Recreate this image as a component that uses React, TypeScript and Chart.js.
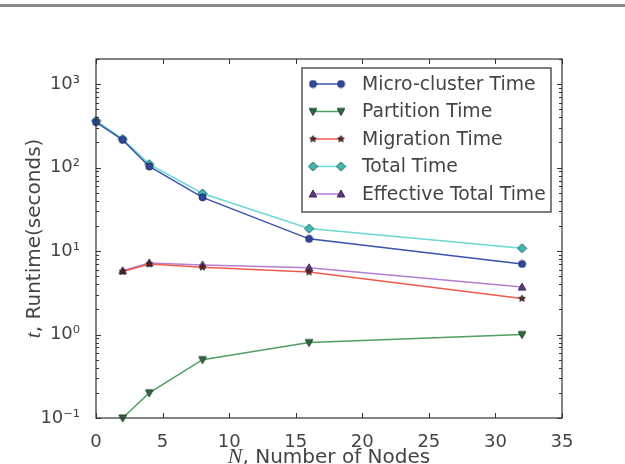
import React, { useEffect, useRef } from 'react';
import { Chart, registerables } from 'chart.js';

Chart.register(...registerables);

const nodes = [0, 2, 4, 8, 16, 32];
const microCluster = [350, 215, 103, 44, 14, 7];
const partition = [null, 0.1, 0.2, 0.5, 0.8, 1.0];
const migration = [null, 5.7, 7.0, 6.4, 5.6, 2.7];
const totalTime = [365, 220, 110, 49, 18.6, 10.8];
const effective = [null, 5.8, 7.2, 6.8, 6.3, 3.7];

const seriesLabels = ['Micro-cluster Time', 'Partition Time', 'Migration Time', 'Total Time', 'Effective Total Time'];
const xTickValues = [0, 5, 10, 15, 20, 25, 30, 35];
const yDecades = [-1, 0, 1, 2, 3];
const supDigits: Record<string, string> = { '-': '⁻', '0': '⁰', '1': '¹', '2': '²', '3': '³', '4': '⁴', '5': '⁵', '6': '⁶', '7': '⁷', '8': '⁸', '9': '⁹' };

const FONT = "'DejaVu Sans'";
const TEXT_COLOR = '#444';

function makeMarker(shape: string, size: number, fill: string, stroke: string): HTMLCanvasElement {
  const c = document.createElement('canvas');
  c.width = size;
  c.height = size;
  const ctx = c.getContext('2d')!;
  const cx = size / 2;
  const cy = size / 2;
  const r = size / 2 - 1;
  ctx.beginPath();
  if (shape === 'circle') {
    ctx.arc(cx, cy, r, 0, Math.PI * 2);
  } else if (shape === 'diamond') {
    ctx.moveTo(cx, cy - r);
    ctx.lineTo(cx + r, cy);
    ctx.lineTo(cx, cy + r);
    ctx.lineTo(cx - r, cy);
    ctx.closePath();
  } else if (shape === 'triUp') {
    ctx.moveTo(cx, cy - r);
    ctx.lineTo(cx + r * 0.95, cy + r * 0.75);
    ctx.lineTo(cx - r * 0.95, cy + r * 0.75);
    ctx.closePath();
  } else if (shape === 'triDown') {
    ctx.moveTo(cx, cy + r);
    ctx.lineTo(cx + r * 0.95, cy - r * 0.75);
    ctx.lineTo(cx - r * 0.95, cy - r * 0.75);
    ctx.closePath();
  } else if (shape === 'star') {
    for (let i = 0; i < 10; i++) {
      const rad = i % 2 === 0 ? r : r * 0.45;
      const a = -Math.PI / 2 + (i * Math.PI) / 5;
      const px = cx + rad * Math.cos(a);
      const py = cy + rad * Math.sin(a);
      if (i === 0) ctx.moveTo(px, py);
      else ctx.lineTo(px, py);
    }
    ctx.closePath();
  }
  ctx.fillStyle = fill;
  ctx.fill();
  ctx.lineWidth = 1;
  ctx.strokeStyle = stroke;
  ctx.stroke();
  return c;
}

const styles = [
  { line: '#3a52ab', shape: 'circle', size: 9, fill: '#2f4a9c', stroke: '#1c2b5c' },
  { line: '#4f9f62', shape: 'triDown', size: 10, fill: '#2f6a40', stroke: '#1d3d25' },
  { line: '#f25a4c', shape: 'star', size: 9, fill: '#4a2a2a', stroke: '#3a1e1e' },
  { line: '#6bd8d2', shape: 'diamond', size: 11, fill: '#3fbab3', stroke: '#1d5552' },
  { line: '#b47fd3', shape: 'triUp', size: 10, fill: '#5e3b7e', stroke: '#3a2350' },
];

function drawMixed(ctx: CanvasRenderingContext2D, parts: { text: string; font: string }[], x: number, y: number) {
  let total = 0;
  for (const p of parts) {
    ctx.font = p.font;
    total += ctx.measureText(p.text).width;
  }
  let cur = x - total / 2;
  for (const p of parts) {
    ctx.font = p.font;
    ctx.fillText(p.text, cur, y);
    cur += ctx.measureText(p.text).width;
  }
}

export default function App() {
  const ref = useRef<HTMLCanvasElement>(null);

  useEffect(() => {
    document.body.style.margin = '0';
    const canvas = ref.current!;
    const markers = styles.map((s) => makeMarker(s.shape, s.size, s.fill, s.stroke));
    const seriesData = [microCluster, partition, migration, totalTime, effective];

    const decorPlugin = {
      id: 'decor',
      beforeDraw(chart: any) {
        const ctx = chart.ctx;
        ctx.save();
        ctx.fillStyle = '#8a8a8a';
        ctx.fillRect(0, 4, chart.width, 3);
        ctx.restore();
      },
      afterDraw(chart: any) {
        const ctx: CanvasRenderingContext2D = chart.ctx;
        const { left, right, top, bottom } = chart.chartArea;
        const xs = chart.scales.x;
        const ys = chart.scales.y;
        ctx.save();
        // frame
        ctx.strokeStyle = '#333';
        ctx.lineWidth = 1.2;
        ctx.strokeRect(left, top, right - left, bottom - top);
        // x ticks
        ctx.lineWidth = 1;
        ctx.beginPath();
        for (const v of xTickValues) {
          const px = Math.round(xs.getPixelForValue(v)) + 0.5;
          ctx.moveTo(px, bottom);
          ctx.lineTo(px, bottom - 5);
          ctx.moveTo(px, top);
          ctx.lineTo(px, top + 5);
        }
        // y ticks
        for (const d of yDecades) {
          const py = Math.round(ys.getPixelForValue(Math.pow(10, d))) + 0.5;
          ctx.moveTo(left, py);
          ctx.lineTo(left + 5, py);
          ctx.moveTo(right, py);
          ctx.lineTo(right - 5, py);
          for (let m = 2; m <= 9; m++) {
            const v = m * Math.pow(10, d);
            if (v > ys.max) break;
            const pm = Math.round(ys.getPixelForValue(v)) + 0.5;
            ctx.moveTo(left, pm);
            ctx.lineTo(left + 3, pm);
            ctx.moveTo(right, pm);
            ctx.lineTo(right - 3, pm);
          }
        }
        ctx.stroke();

        // legend
        const lx = 302, ly = 68, lw = 249, lh = 144;
        ctx.fillStyle = '#fff';
        ctx.fillRect(lx, ly, lw, lh);
        ctx.strokeStyle = '#555';
        ctx.lineWidth = 1.5;
        ctx.strokeRect(lx, ly, lw, lh);
        const rowY = [84, 111.5, 139, 166.5, 194];
        ctx.textBaseline = 'middle';
        ctx.textAlign = 'left';
        seriesLabels.forEach((lab, i) => {
          const y = rowY[i];
          ctx.strokeStyle = styles[i].line;
          ctx.lineWidth = 1.5;
          ctx.beginPath();
          ctx.moveTo(313, y);
          ctx.lineTo(341, y);
          ctx.stroke();
          const mk = markers[i];
          ctx.drawImage(mk, 313 - mk.width / 2, y - mk.height / 2);
          ctx.drawImage(mk, 341 - mk.width / 2, y - mk.height / 2);
          ctx.fillStyle = TEXT_COLOR;
          ctx.font = `18.8px ${FONT}`;
          ctx.fillText(lab, 362, y + 1);
        });

        // axis titles
        ctx.fillStyle = TEXT_COLOR;
        ctx.textBaseline = 'alphabetic';
        ctx.save();
        ctx.translate(40, (top + bottom) / 2);
        ctx.rotate(-Math.PI / 2);
        drawMixed(ctx, [
          { text: 't', font: "italic 22px 'Liberation Serif'" },
          { text: ', Runtime(seconds)', font: `20px ${FONT}` },
        ], 0, 0);
        ctx.restore();
        drawMixed(ctx, [
          { text: 'N', font: "italic 22px 'Liberation Serif'" },
          { text: ', Number of Nodes', font: `20px ${FONT}` },
        ], (left + right) / 2, 463);
        ctx.restore();
      },
    };

    const chart = new Chart(canvas, {
      type: 'line',
      data: {
        datasets: seriesLabels.map((lab, i) => ({
          label: lab,
          data: nodes
            .map((n, j) => ({ x: n, y: seriesData[i][j] }))
            .filter((p) => p.y !== null) as any,
          borderColor: styles[i].line,
          backgroundColor: styles[i].fill,
          borderWidth: 1.5,
          pointStyle: markers[i] as any,
          pointRadius: 5,
          tension: 0,
          clip: false as any,
        })),
      },
      options: {
        responsive: false,
        animation: false,
        layout: { padding: { top: 59, right: 63, left: 0, bottom: 0 } },
        plugins: { legend: { display: false }, tooltip: { enabled: false } },
        scales: {
          x: {
            type: 'linear',
            min: 0,
            max: 35,
            grid: { display: false },
            border: { display: false },
            afterBuildTicks: (s: any) => {
              s.ticks = xTickValues.map((v) => ({ value: v }));
            },
            afterFit: (s: any) => {
              s.height = 46;
            },
            ticks: {
              autoSkip: false,
              maxRotation: 0,
              padding: 6,
              color: TEXT_COLOR,
              font: { family: 'DejaVu Sans', size: 18 },
              callback: (v: any) => String(v),
            },
          },
          y: {
            type: 'logarithmic',
            min: 0.1,
            max: 2000,
            grid: { display: false },
            border: { display: false },
            afterBuildTicks: (s: any) => {
              s.ticks = yDecades.map((d) => ({ value: Math.pow(10, d) }));
            },
            afterFit: (s: any) => {
              s.width = 96;
            },
            ticks: {
              autoSkip: false,
              padding: 8,
              color: TEXT_COLOR,
              font: { family: 'DejaVu Sans', size: 18 },
              callback: (v: any) => {
                const l = Math.round(Math.log10(Number(v)));
                return '10' + String(l).split('').map((c) => supDigits[c]).join('');
              },
            },
          },
        },
      },
      plugins: [decorPlugin],
    });
    return () => chart.destroy();
  }, []);

  return (
    <div style={{ position: 'relative', width: 625, height: 464 }}>
      <canvas ref={ref} width={625} height={464} style={{ display: 'block' }} />
    </div>
  );
}
